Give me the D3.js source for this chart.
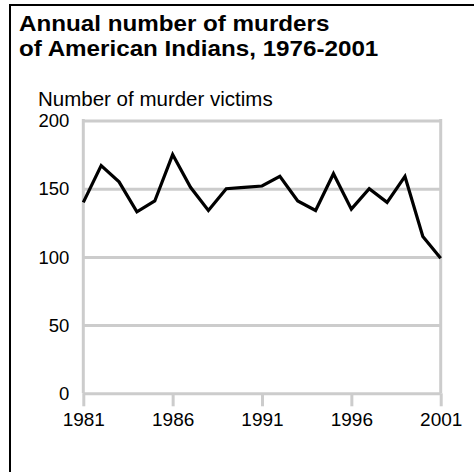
<!DOCTYPE html>
<html>
<head>
<meta charset="utf-8">
<script src="https://cdn.jsdelivr.net/npm/d3@7"></script>
<style>
  body { margin: 0; background: #fff; }
  text { font-family: "Liberation Sans", Arial, Helvetica, sans-serif; fill: #000; }
</style>
</head>
<body>
<div id="chart"></div>
<script>
///// Data

let years = [1981, 1982, 1983, 1984, 1985, 1986, 1987, 1988, 1989, 1990, 1991,
             1992, 1993, 1994, 1995, 1996, 1997, 1998, 1999, 2000, 2001];
let murders = [140, 167, 155, 133, 141, 175, 151, 134, 150, 151, 152,
               159, 141, 134, 161, 135, 150, 140, 159, 115, 99];
let yTicks = [0, 50, 100, 150, 200];
let xTicks = [1981, 1986, 1991, 1996, 2001];
let titleLines = ["Annual number of murders", "of American Indians, 1976-2001"];
let yLabel = "Number of murder victims";

///// Layout

let W = 474, H = 472;
let margin = { top: 120.5, right: 33.3, bottom: 78.7, left: 83.3 },
    width = W - margin.left - margin.right,
    height = H - margin.top - margin.bottom;

let x = d3.scaleLinear().domain([1981, 2001]).range([0, width]);
let y = d3.scaleLinear().domain([0, 200]).range([height, 0]);

let svg = d3.select("#chart")
    .append("svg")
    .attr("width", W)
    .attr("height", H);

// frame (open at right and bottom, as in the original)
svg.append("path")
    .attr("d", "M10,472 V5 H474")
    .attr("fill", "none")
    .attr("stroke", "#000")
    .attr("stroke-width", 2);

// title - the source glyphs are a little wider than Arial, so stretch slightly
svg.append("g")
    .attr("transform", "translate(19,0) scale(1.1,1)")
    .append("text")
    .attr("font-size", "22px")
    .attr("font-weight", "bold")
    .selectAll("tspan")
    .data(titleLines)
    .enter().append("tspan")
    .attr("x", 0)
    .attr("y", function(d, i) { return 31 + i * 25; })
    .text(function(d) { return d; });

// y axis title
svg.append("text")
    .attr("x", 38)
    .attr("y", 106)
    .attr("font-size", "20.5px")
    .text(yLabel);

let g = svg.append("g")
    .attr("transform", "translate(" + margin.left + "," + margin.top + ")");

// horizontal grid + y labels
let yAxis = d3.axisLeft(y)
    .tickValues(yTicks)
    .tickSize(-width)
    .tickPadding(14);

g.append("g")
    .attr("class", "y axis")
    .call(yAxis)
    .call(function(s) {
        s.select(".domain").remove();
        s.selectAll(".tick line").attr("stroke", "#cccccc").attr("stroke-width", 3);
        s.selectAll(".tick text").attr("font-size", "18.5px").attr("dy", "0.33em")
            .style("font-family", "'Liberation Sans', Arial, sans-serif");
    });

// vertical edges + x ticks
let xAxis = d3.axisBottom(x)
    .tickValues(xTicks)
    .tickFormat(d3.format("d"))
    .tickSize(13)
    .tickPadding(4);

g.append("g")
    .attr("class", "x axis")
    .attr("transform", "translate(0," + height + ")")
    .call(xAxis)
    .call(function(s) {
        s.select(".domain").remove();
        s.selectAll(".tick line").attr("stroke", "#cccccc").attr("stroke-width", 3);
        s.selectAll(".tick text").attr("font-size", "19px").attr("dy", "0.85em")
            .style("font-family", "'Liberation Sans', Arial, sans-serif");
    });

g.selectAll(".edge")
    .data([1981, 2001])
    .enter().append("line")
    .attr("class", "edge")
    .attr("x1", function(d) { return x(d); })
    .attr("x2", function(d) { return x(d); })
    .attr("y1", y(200) - 1.5)
    .attr("y2", height)
    .attr("stroke", "#cccccc")
    .attr("stroke-width", 3);

// the line
let valueline = d3.line()
    .x(function(d, i) { return x(years[i]); })
    .y(function(d) { return y(d); });

g.append("path")
    .datum(murders)
    .attr("fill", "none")
    .attr("stroke", "#000")
    .attr("stroke-width", 3.2)
    .attr("stroke-linejoin", "miter")
    .attr("d", valueline);
</script>
</body>
</html>
